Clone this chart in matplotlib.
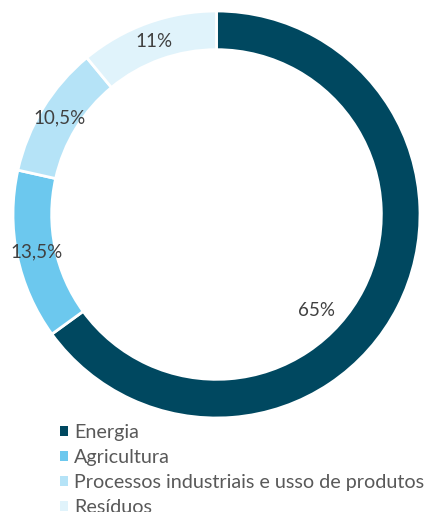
import matplotlib
matplotlib.use("Agg")
import matplotlib.pyplot as plt
import numpy as np

categories = ["Energia", "Agricultura", "Processos industriais e usso de produtos", "Resíduos"]
values = [65, 13.5, 10.5, 11]
labels = ["65%", "13,5%", "10,5%", "11%"]
colors = ["#004860", "#6CC8EE", "#B5E3F7", "#E0F3FB"]

plt.rcParams["font.family"] = ["Lato", "DejaVu Sans"]

fig = plt.figure(figsize=(4.27, 5.12), dpi=100)
ax = fig.add_axes([13 / 427, 94 / 512, 407 / 427, 407 / 512])

wedges, _ = ax.pie(values, colors=colors, startangle=90, counterclock=False,
                   radius=1, wedgeprops=dict(width=0.19, edgecolor="white", linewidth=2))
ax.set_xlim(-1, 1)
ax.set_ylim(-1, 1)
ax.set_aspect("equal")
ax.axis("off")

# data labels: on the ring at mid angle, except the big slice (inside the hole)
for i, w in enumerate(wedges):
    mid = np.deg2rad((w.theta1 + w.theta2) / 2)
    if i == 0:
        x, y = 0.49, -0.47
    else:
        x, y = 0.905 * np.cos(mid), 0.905 * np.sin(mid)
    ax.text(x, y, labels[i], ha="center", va="center", fontsize=13.5, color="#404040")

leg = fig.legend(wedges, categories, loc="upper left", bbox_to_anchor=(60 / 427, 1 - 424 / 512),
                 frameon=False, fontsize=14.2, handlelength=0.42, handleheight=0.42,
                 handletextpad=0.29, labelspacing=0.4, borderpad=0, borderaxespad=0)
for t in leg.get_texts():
    t.set_color("#595959")
for h in leg.legend_handles:
    h.set_linewidth(0)

fig.savefig("out.png", dpi=100)
